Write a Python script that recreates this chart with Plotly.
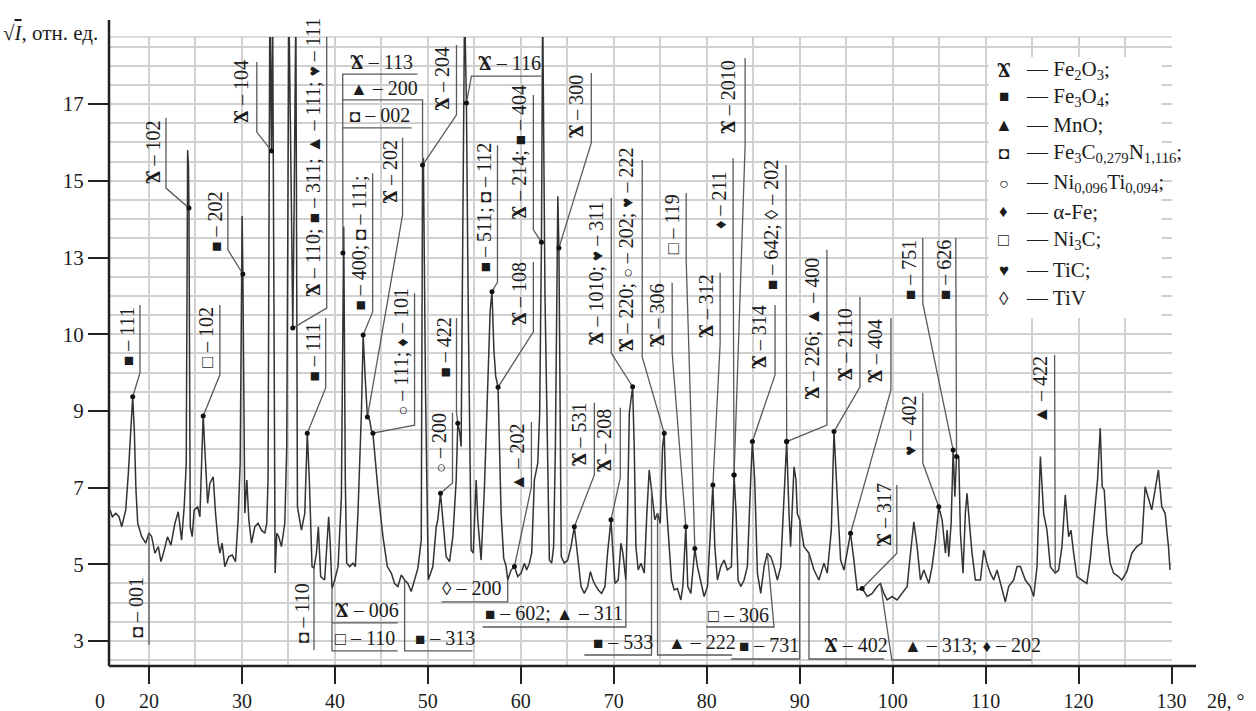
import numpy as np
import plotly.graph_objects as go

# ---- diffraction pattern: 2θ (deg) and √I (rel. units) ----
two_theta = [
    15.8, 16.06, 16.42, 16.78, 17.07, 17.5, 17.78, 18.07, 18.25, 18.42, 18.6, 18.79, 19.22, 19.65,
    20.0, 20.29, 20.64, 21.0, 21.29, 21.64, 22.0, 22.36, 22.79, 23.15, 23.51, 23.79, 24.01, 24.16,
    24.25, 24.3, 24.44, 24.65, 24.86, 25.23, 25.48, 25.66, 25.83, 26.09, 26.31, 26.55, 26.91, 27.16,
    27.45, 27.63, 27.87, 28.16, 28.59, 28.95, 29.31, 29.59, 29.81, 30.02, 30.1, 30.31, 30.53, 30.74,
    31.03, 31.39, 31.74, 32.1, 32.46, 32.67, 32.81, 33.0, 33.18, 33.3, 33.45, 33.57, 33.75, 33.96,
    34.25, 34.61, 34.82, 35.05, 35.3, 35.47, 35.62, 35.8, 35.97, 36.4, 36.76, 36.94, 37.03, 37.25,
    37.39, 37.54, 37.75, 38.01, 38.22, 38.47, 38.9, 39.12, 39.33, 39.48, 39.69, 39.98, 40.34, 40.7,
    40.86, 40.95, 41.12, 41.27, 41.59, 41.94, 42.2, 42.48, 42.85, 43.04, 43.27, 43.5, 43.74, 43.92,
    44.09, 44.35, 44.7, 45.17, 45.64, 46.07, 46.42, 46.78, 47.14, 47.5, 47.85, 48.21, 48.57, 48.93,
    49.29, 49.43, 49.52, 49.75, 50.05, 50.54, 50.9, 51.07, 51.36, 51.61, 51.97, 52.33, 52.69, 53.05,
    53.22, 53.44, 53.58, 53.95, 54.15, 54.35, 54.66, 54.88, 55.2, 55.37, 55.73, 56.09, 56.38, 56.7,
    56.9, 57.1, 57.3, 57.55, 57.88, 58.16, 58.42, 58.59, 58.95, 59.31, 59.67, 60.03, 60.39, 60.63,
    60.92, 61.17, 61.46, 61.82, 62.03, 62.22, 62.35, 62.6, 63.07, 63.32, 63.53, 63.72, 63.98, 64.1,
    64.35, 64.68, 65.04, 65.4, 65.76, 66.11, 66.48, 66.83, 67.19, 67.48, 67.75, 68.0, 68.34, 68.69,
    69.05, 69.33, 69.7, 69.91, 70.13, 70.48, 70.77, 70.98, 71.3, 71.48, 71.67, 72.03, 72.2, 72.38,
    72.63, 72.92, 73.28, 73.56, 73.81, 74.06, 74.42, 74.71, 75.0, 75.25, 75.43, 75.6, 75.96, 76.21,
    76.5, 76.85, 77.21, 77.43, 77.75, 77.96, 78.29, 78.72, 79.0, 79.36, 79.72, 80.08, 80.44, 80.66,
    80.87, 81.15, 81.51, 81.87, 82.22, 82.65, 82.94, 83.16, 83.37, 83.66, 84.02, 84.37, 84.73, 84.91,
    85.16, 85.45, 85.81, 86.17, 86.52, 86.88, 87.24, 87.6, 87.96, 88.31, 88.6, 88.85, 89.02, 89.39,
    89.6, 89.74, 90.0, 90.46, 91.0, 91.54, 92.07, 92.61, 92.97, 93.4, 93.69, 94.04, 94.4, 94.76,
    95.12, 95.47, 95.83, 96.19, 96.72, 97.26, 97.8, 98.33, 98.69, 99.05, 99.41, 99.94, 100.48, 101.02,
    101.56, 101.92, 102.28, 102.63, 102.99, 103.35, 103.89, 104.24, 104.61, 104.96, 105.32, 105.68,
    105.86, 106.04, 106.29, 106.51, 106.69, 106.87, 107.11, 107.29, 107.57, 107.82, 108.0, 108.29,
    108.54, 108.9, 109.44, 109.8, 110.15, 110.51, 110.87, 111.23, 111.59, 112.12, 112.48, 113.02,
    113.38, 113.74, 114.27, 114.81, 115.17, 115.53, 115.89, 116.24, 116.6, 116.96, 117.49, 117.85,
    118.21, 118.57, 118.93, 119.18, 119.47, 119.82, 120.36, 120.89, 121.25, 121.61, 122.04, 122.33,
    122.54, 122.76, 123.04, 123.4, 123.76, 124.29, 124.65, 125.19, 125.73, 126.26, 126.8, 127.16,
    127.52, 127.87, 128.23, 128.59, 128.95, 129.31, 129.67, 129.84,
]
sqrt_i = [
    6.42, 6.24, 6.33, 6.24, 5.98, 6.42, 7.37, 8.76, 9.37, 8.5, 6.94, 6.07, 5.72, 5.55,
    5.82, 5.72, 5.29, 5.46, 5.07, 5.37, 5.72, 5.5, 6.07, 6.37, 5.63, 6.5, 7.63, 15.8,
    15.4, 14.29, 5.98, 5.72, 6.42, 6.5, 6.24, 7.63, 8.87, 7.63, 6.59, 7.11, 7.28, 6.33,
    5.55, 5.29, 5.55, 4.94, 5.2, 5.24, 5.07, 6.16, 7.63, 14.08, 12.57, 6.33, 7.2, 6.16,
    5.55, 5.98, 6.07, 5.89, 5.81, 6.07, 7.2, 19.6, 15.78, 19.6, 10.2, 4.77, 5.81, 5.72,
    5.46, 6.07, 8.07, 19.6, 14.8, 11.16, 14.5, 19.6, 6.5, 5.89, 6.33, 7.81, 8.42, 7.2,
    6.16, 4.94, 4.9, 5.29, 5.98, 4.68, 4.59, 5.46, 6.24, 5.63, 4.37, 4.59, 4.94, 6.76,
    13.12, 13.8, 7.2, 5.03, 4.94, 5.03, 4.94, 6.33, 8.94, 10.98, 9.81, 8.84, 8.76, 8.5,
    8.42, 7.63, 6.76, 5.72, 4.94, 4.77, 4.5, 4.42, 4.72, 4.59, 4.5, 4.29, 4.59, 4.9,
    5.63, 15.41, 15.6, 9.5, 4.6, 4.94, 5.98, 6.16, 6.85, 6.16, 5.2, 5.07, 5.72, 7.2,
    8.68, 8.42, 8.07, 19.6, 17.03, 11.5, 5.37, 5.29, 7.2, 6.16, 5.11, 7.02, 8.94, 11.6,
    12.11, 10.6, 9.9, 9.62, 6.33, 5.16, 4.94, 4.59, 4.85, 4.94, 4.68, 4.77, 5.03, 4.85,
    5.03, 5.29, 7.2, 7.63, 8.94, 13.4, 19.6, 12.0, 5.11, 5.03, 5.46, 8.07, 14.6, 13.25,
    5.2, 5.03, 5.11, 5.46, 5.98, 5.29, 4.42, 4.24, 4.42, 4.81, 4.59, 4.46, 4.33, 4.24,
    4.42, 5.29, 6.16, 5.29, 4.5, 4.59, 5.55, 5.29, 4.59, 6.33, 8.94, 9.63, 8.07, 5.46,
    4.85, 5.03, 4.77, 6.33, 7.46, 6.94, 6.16, 6.33, 6.07, 8.07, 8.42, 6.76, 5.46, 4.59,
    4.33, 4.37, 4.07, 4.42, 5.98, 4.42, 4.24, 5.41, 4.94, 4.59, 4.16, 4.42, 5.89, 7.07,
    5.46, 4.59, 4.94, 5.11, 4.85, 4.94, 7.33, 6.33, 4.59, 4.42, 4.59, 4.94, 7.2, 8.2,
    7.2, 4.77, 4.24, 4.94, 5.29, 5.2, 4.94, 4.59, 4.94, 6.76, 8.2, 6.33, 5.46, 7.54,
    7.2, 6.33, 6.16, 5.46, 5.29, 4.85, 4.59, 5.03, 4.77, 5.89, 8.46, 6.76, 5.11, 4.85,
    5.29, 5.81, 5.11, 4.33, 4.37, 4.16, 4.24, 4.42, 4.5, 4.24, 4.07, 4.16, 4.07, 4.24,
    4.42, 5.29, 6.11, 5.46, 4.59, 4.85, 4.5, 4.94, 5.63, 6.5, 6.16, 5.29,
    5.89, 5.2, 6.07, 7.98, 6.76, 7.81, 7.81, 5.81, 4.77, 6.33, 6.85, 5.98,
    5.29, 4.59, 4.59, 5.37, 5.03, 4.77, 4.59, 4.85, 4.5, 4.02, 4.42, 4.59,
    4.94, 4.94, 4.59, 4.42, 4.16, 4.94, 7.81, 6.33, 5.89, 4.94, 4.77, 4.85,
    5.46, 6.81, 5.72, 5.89, 5.29, 4.68, 4.59, 4.5, 5.11, 6.07, 7.2, 8.55,
    7.02, 6.94, 5.81, 5.03, 4.77, 4.68, 4.59, 4.81, 5.29, 5.46, 5.55, 7.02,
    6.68, 6.42, 6.94, 7.46, 6.5, 6.33, 5.46, 4.85,
]

x_ticks = [20, 30, 40, 50, 60, 70, 80, 90, 100, 110, 120, 130]
y_ticks = [3, 5, 7, 9, 11, 13, 15, 17]
y_tick_text = ["3", "5", "7", "9", "10", "13", "15", "17"]

FONT = "'Liberation Serif', 'DejaVu Serif', serif"
INK = "#1c1c1c"


def sym(ch, size):
    return f"<span style='font-size:{size}px'>{ch}</span>"


HEM = "<b>Ϫ</b>"          # Fe2O3
MAG = sym("■", 17)        # Fe3O4
MNO = sym("▲", 18)        # MnO
FCN = sym("◘", 17)        # Fe3C0,279N1,116
NIT = sym("○", 16)        # Ni0,096Ti0,094
AFE = sym("♦", 17)        # α-Fe
NIC = sym("□", 18)        # Ni3C
TIC = sym("♥", 17)        # TiC
TIV = sym("◊", 19)        # TiV

# ---- reflections marked with rotated labels ----
v_text = [
    f"{MAG} – 111", f"{FCN} – 001", f"{HEM} – 102", f"{NIC} – 102", f"{MAG} – 202",
    f"{HEM} – 104", f"{HEM} – 110; {MAG} – 311; {MNO} – 111; {TIC} – 111", f"{MAG} – 111",
    f"{MAG} – 400; {FCN} – 111;", f"{HEM} – 202", f"{NIT} – 111; {AFE} – 101", f"{MAG} – 422",
    f"{NIT} – 200", f"{HEM} – 204", f"{MAG} – 511; {FCN} – 112", f"{HEM} – 214; {MAG} – 404",
    f"{HEM} – 108", f"{MNO} – 202", f"{HEM} – 300", f"{HEM} – 531", f"{HEM} – 208",
    f"{HEM} – 1010; {TIC} – 311", f"{HEM} – 220; {NIT} – 202; {TIC} – 222", f"{HEM} – 306",
    f"{NIC} – 119", f"{HEM} – 312", f"{AFE} – 211", f"{HEM} – 2010", f"{MAG} – 642; {TIV} – 202",
    f"{HEM} – 314", f"{HEM} – 226; {MNO} – 400", f"{HEM} – 2110", f"{HEM} – 404", f"{HEM} – 317",
    f"{TIC} – 402", f"{MAG} – 751", f"{MAG} – 626", f"{MNO} – 422", f"{FCN} – 110",
]
v_peak = [
    18.25, 20.0, 24.3, 25.83, 30.1, 33.18, 35.47, 37.03, 43.04, 43.5, 44.09, 53.22, 51.36,
    49.43, 56.9, 62.22, 57.55, 59.31, 64.1, 65.76, 69.7, 72.03, 75.43, 77.75, 78.72, 80.66,
    82.94, 82.94, 88.6, 84.91, 88.6, 93.69, 95.47, 96.72, 104.96, 106.51, 106.87, 117.49, 37.75,
]
# label centres and leader paths ("P" = the marked point on the pattern)
v_center = [
    (17.64, 10.93), (18.6, 3.88), (20.43, 15.75), (26.12, 10.93), (27.09, 13.93), (29.88, 17.32),
    (37.62, 15.62), (37.62, 10.54), (42.56, 13.38), (45.89, 15.23), (47.07, 10.54), (51.69, 10.64),
    (51.26, 8.16), (51.58, 17.65), (55.98, 14.32), (59.85, 15.75), (59.85, 12.07), (59.53, 7.80),
    (65.97, 16.95), (66.29, 8.40), (68.98, 8.24), (68.12, 12.60), (71.34, 13.20), (74.67, 11.50),
    (76.28, 13.87), (79.94, 11.74), (81.33, 14.50), (82.30, 17.19), (86.92, 13.85), (85.63, 10.93),
    (91.32, 11.14), (94.87, 10.74), (98.09, 10.56), (99.06, 6.29), (101.74, 8.61), (101.74, 12.67),
    (105.5, 12.67), (115.92, 9.54), (36.43, 3.73),
]
v_path = [
    [(19.03, 11.76), (19.03, 9.99), "P"],
    ["P", (20.0, 2.9)],
    [(21.83, 16.64), (21.83, 14.81), "P"],
    [(27.63, 11.76), (27.63, 9.94), "P"],
    [(28.49, 14.71), (28.49, 13.20), "P"],
    [(31.60, 18.10), (31.60, 16.27), "P"],
    [(39.12, 18.75), (39.12, 11.68), "P"],
    [(39.01, 11.42), (39.01, 9.60), "P"],
    [(44.06, 15.20), (44.06, 11.58), "P"],
    [(47.28, 16.12), (47.28, 14.11), "P"],
    [(48.57, 12.07), (48.57, 8.63), "P"],
    [(53.08, 11.42), (53.08, 8.95), "P"],
    [(52.65, 8.95), (52.65, 7.12), "P"],
    [(53.08, 18.54), (53.08, 16.72), "P"],
    [(57.49, 15.93), (57.49, 12.36), "P"],
    [(61.35, 17.24), (61.35, 13.72), "P"],
    [(61.35, 12.88), (61.35, 11.06), "P"],
    [(61.14, 8.71), (61.14, 7.02), "P"],
    [(67.58, 17.81), (67.58, 15.99), "P"],
    [(67.91, 9.21), (67.91, 7.33), "P"],
    [(70.70, 9.08), (70.70, 7.25), "P"],
    [(69.73, 14.55), (69.73, 10.51), "P"],
    [(73.06, 15.54), (73.06, 10.41), "P"],
    [(76.28, 12.34), (76.28, 10.51), "P"],
    [(77.79, 14.68), (77.79, 12.93), "P"],
    [(81.44, 12.60), (81.44, 10.74), "P"],
    [(82.84, 15.59), (82.84, 13.51), "P"],
    [(84.13, 18.20), (84.13, 15.93), "P"],
    [(88.53, 15.41), (88.53, 12.0), "P"],
    [(87.35, 11.76), (87.35, 9.94), "P"],
    [(92.93, 13.20), (92.93, 8.63), "P"],
    [(96.48, 11.97), (96.48, 9.62), "P"],
    [(99.81, 11.42), (99.81, 9.54), "P"],
    [(100.45, 7.07), (100.45, 5.29), "P"],
    [(103.24, 9.47), (103.24, 7.64), "P"],
    [(103.24, 13.51), (103.24, 11.81), "P"],
    [(106.79, 13.51), (106.79, 12.0), "P"],
    [(117.42, 10.46), "P"],
    ["P", (37.75, 2.765)],
]
v_dot = [True] * 37 + [False, False]
v_dot[1] = False

# ---- reflections marked with horizontal labels ----
h_text = [
    f"{HEM} – 113", f"{MNO} – 200", f"{FCN} – 002", f"{HEM} – 116", f"{HEM} – 006", f"{NIC} – 110",
    f"{MAG} – 313", f"{TIV} – 200", f"{MAG} – 602; {MNO} – 311", f"{MAG} – 533", f"{MNO} – 222",
    f"{NIC} – 306", f"{MAG} – 731", f"{HEM} – 402", f"{MNO} – 313; {AFE} – 202",
]
h_pos = [
    (41.37, 18.10), (41.37, 17.42), (41.37, 16.72), (55.23, 18.07), (39.76, 3.81), (39.76, 3.08),
    (48.36, 3.08), (51.26, 4.38), (55.88, 3.73), (67.58, 2.97), (75.64, 2.97),
    (79.94, 3.68), (83.27, 2.90), (92.39, 2.90), (100.99, 2.90),
]
h_peak = [40.86, 49.43, None, 54.15, 39.69, None, 47.5, 58.59, 71.3, 74.06, 74.71,
          86.52, 90.0, 91.0, 98.69]
h_path = [
    [(48.89, 17.78), (40.84, 17.78), "P"],
    [(40.84, 17.11), (49.43, 17.11), "P"],
    [(40.84, 16.38), (48.25, 16.38)],
    [(62.21, 17.73), (54.69, 17.73), "P"],
    ["P", (39.69, 2.74), (46.75, 2.74)],
    [(39.69, 3.47), (46.75, 3.47)],
    ["P", (47.5, 2.74), (54.8, 2.74)],
    ["P", (58.59, 4.02), (51.47, 4.02)],
    ["P", (71.3, 3.365), (55.88, 3.365)],
    ["P", (74.06, 2.635), (66.83, 2.635)],
    ["P", (74.71, 2.635), (82.73, 2.635)],
    ["P", (87.24, 3.365), (79.94, 3.365)],
    ["P", (90.0, 2.53), (82.62, 2.53)],
    ["P", (91.0, 2.53), (99.06, 2.53)],
    ["P", (99.91, 2.505), (114.95, 2.505)],
]
h_dot = [True, False, False, True] + [False] * 11

# ---- phase key ----
key_symbol = [HEM, MAG, MNO, FCN, NIT, AFE, NIC, TIC, TIV]
key_phase = [
    "Fe<sub>2</sub>O<sub>3</sub>;", "Fe<sub>3</sub>O<sub>4</sub>;", "MnO;",
    "Fe<sub>3</sub>C<sub>0,279</sub>N<sub>1,116</sub>;", "Ni<sub>0,096</sub>Ti<sub>0,094</sub>;",
    "α-Fe;", "Ni<sub>3</sub>C;", "TiC;", "TiV",
]
key_row_y = [17.89, 17.19, 16.45, 15.72, 14.94, 14.19, 13.46, 12.67, 11.94]


def on_pattern(t):
    return t, float(np.interp(t, two_theta, sqrt_i))


lx, ly, dx, dy = [], [], [], []
for peaks, paths, dots in ((v_peak, v_path, v_dot), (h_peak, h_path, h_dot)):
    for t, path, d in zip(peaks, paths, dots):
        for p in path:
            px, py = on_pattern(t) if p == "P" else p
            lx.append(px)
            ly.append(py)
        lx.append(None)
        ly.append(None)
        if d and t is not None:
            px, py = on_pattern(t)
            dx.append(px)
            dy.append(py)

fig = go.Figure()
fig.add_trace(go.Scatter(x=two_theta, y=sqrt_i, mode="lines",
                         line=dict(color="#333333", width=1.5), hoverinfo="skip"))
fig.add_trace(go.Scatter(x=lx, y=ly, mode="lines", connectgaps=False,
                         line=dict(color="#5a5a5a", width=1.3), hoverinfo="skip"))
fig.add_trace(go.Scatter(x=dx, y=dy, mode="markers",
                         marker=dict(color="#111", size=5), hoverinfo="skip"))

LABEL_FONT = dict(family=FONT, size=20, color=INK)
ann = []
for txt, (cx, cy) in zip(v_text, v_center):
    ann.append(dict(x=cx, y=cy, xref="x", yref="y", text=txt, textangle=-90, showarrow=False,
                    xanchor="center", yanchor="middle", font=LABEL_FONT))
for txt, (hx, hy) in zip(h_text, h_pos):
    ann.append(dict(x=hx, y=hy, xref="x", yref="y", text=txt, showarrow=False,
                    xanchor="left", yanchor="middle", font=LABEL_FONT))
for s, name, ry in zip(key_symbol, key_phase, key_row_y):
    ann.append(dict(x=111.94, y=ry, xref="x", yref="y", text=s, showarrow=False,
                    xanchor="center", yanchor="middle", font=LABEL_FONT))
    ann.append(dict(x=114.09, y=ry, xref="x", yref="y", text="— " + name, showarrow=False,
                    xanchor="left", yanchor="middle", font=dict(family=FONT, size=21, color=INK)))

ann.append(dict(x=-0.0085, y=1.0064, xref="paper", yref="paper", xanchor="right", yanchor="middle",
                showarrow=False, font=dict(family=FONT, size=21, color=INK),
                text="√<span style='text-decoration:overline'><i>I</i></span>, отн. ед."))
ann.append(dict(x=-0.0085, y=-0.055, xref="paper", yref="paper", xanchor="center", yanchor="middle",
                showarrow=False, text="0", font=dict(family=FONT, size=20, color=INK)))
ann.append(dict(x=1.031, y=-0.055, xref="paper", yref="paper", xanchor="left", yanchor="middle",
                showarrow=False, text="2θ, °", font=dict(family=FONT, size=20, color=INK)))

GRID = "#d0d0d0"
shapes = [
    dict(type="rect", xref="x", yref="y", x0=110.33, x1=128.92, y0=11.42, y1=18.23,
         fillcolor="white", line=dict(width=0), layer="between"),
    dict(type="line", xref="paper", yref="paper", x0=0, x1=1, y0=1, y1=1,
         line=dict(color=GRID, width=1.5), layer="below"),
    dict(type="line", xref="paper", yref="paper", x0=0, x1=0, y0=0, y1=1.027,
         line=dict(color="#222", width=2.5)),
    dict(type="line", xref="paper", yref="paper", x0=0, x1=1.0226, y0=0, y1=0,
         line=dict(color="#222", width=2.5)),
]

fig.update_layout(
    width=1256, height=711,
    margin=dict(l=109, r=84, t=37, b=45, autoexpand=False),
    paper_bgcolor="white", plot_bgcolor="white", showlegend=False,
    font=dict(family=FONT, size=20, color=INK),
    annotations=ann, shapes=shapes,
    xaxis=dict(range=[15.70, 130.05], tickmode="array", tickvals=x_ticks, automargin=False,
               ticktext=[str(v) for v in x_ticks], ticks="outside", ticklen=17, tickwidth=2,
               tickcolor="#222", showgrid=True, gridcolor=GRID, gridwidth=1.5,
               minor=dict(tickmode="linear", tick0=0, dtick=5, showgrid=True, gridcolor=GRID,
                          gridwidth=1.5, ticks=""),
               showline=False, zeroline=False,
               tickfont=dict(family=FONT, size=20, color=INK)),
    yaxis=dict(range=[2.348, 18.75], tickmode="array", tickvals=y_ticks, ticktext=y_tick_text,
               automargin=False, ticks="outside", ticklen=20, tickwidth=2, tickcolor="#222",
               showgrid=True, gridcolor=GRID, gridwidth=1.5,
               minor=dict(tickmode="linear", tick0=0, dtick=0.5, showgrid=True, gridcolor=GRID,
                          gridwidth=1.5, ticks=""),
               showline=False, zeroline=False,
               tickfont=dict(family=FONT, size=21, color=INK)),
)

fig.write_html("out.html")
